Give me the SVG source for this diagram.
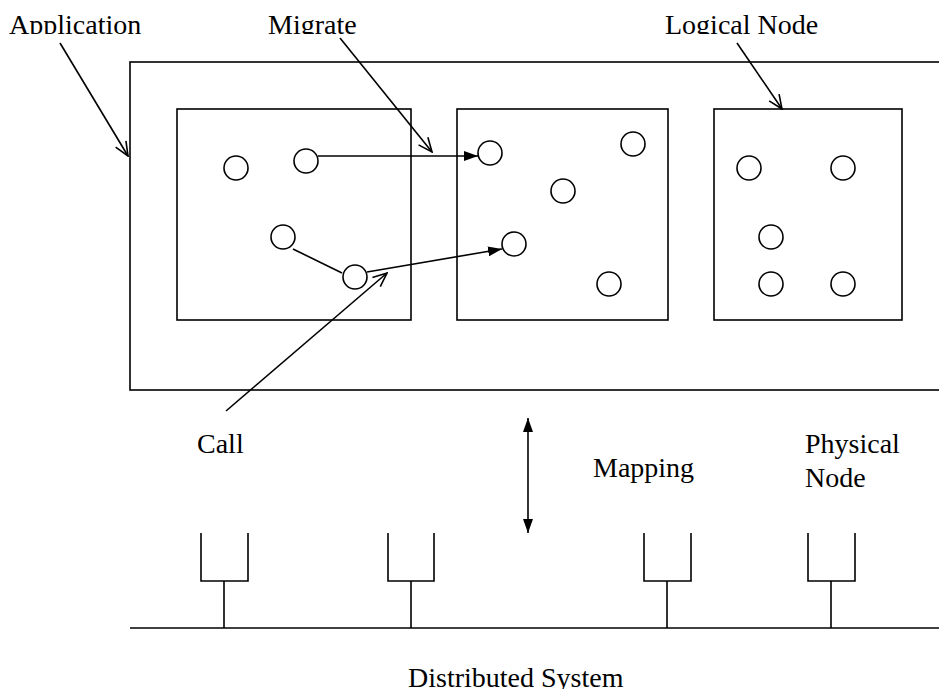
<svg xmlns="http://www.w3.org/2000/svg" width="939" height="689" viewBox="0 0 939 689">
  <style>
    .ln { fill: none; stroke: #000; stroke-width: 1.6; }
    .obj { fill: #fff; stroke: #000; stroke-width: 1.6; }
    .lbl { font-family: "Liberation Serif", "Times New Roman", serif; font-size: 28px; fill: #000; }
  </style>
  <defs>
    <marker id="solid" viewBox="0 0 14 10" refX="14" refY="5" markerWidth="14" markerHeight="10" markerUnits="userSpaceOnUse" orient="auto-start-reverse">
      <path d="M0,0 L14,5 L0,10 z" fill="#000"/>
    </marker>
    <marker id="open" viewBox="0 0 16 14" refX="15" refY="7" markerWidth="16" markerHeight="14" markerUnits="userSpaceOnUse" orient="auto">
      <path d="M1,1 L15,7 L1,13" fill="none" stroke="#000" stroke-width="1.6"/>
    </marker>
    <clipPath id="topClip">
      <rect x="0" y="0" width="939" height="34"/>
    </clipPath>
  </defs>
  <rect width="939" height="689" fill="#fff"/>

  <!-- application frame -->
  <g id="application">
    <rect class="ln" x="130" y="62" width="830" height="328"/>
  </g>

  <!-- logical nodes with their objects -->
  <g id="logical-node-1">
    <rect class="ln" x="177" y="109" width="234" height="211"/>
    <circle class="obj" cx="236" cy="168" r="12"/>
    <circle class="obj" cx="306" cy="161" r="12"/>
    <circle class="obj" cx="283" cy="237" r="12"/>
    <circle class="obj" cx="355" cy="277" r="12"/>
  </g>
  <g id="logical-node-2">
    <rect class="ln" x="457" y="109" width="211" height="211"/>
    <circle class="obj" cx="490" cy="153" r="12"/>
    <circle class="obj" cx="633" cy="144" r="12"/>
    <circle class="obj" cx="563" cy="191" r="12"/>
    <circle class="obj" cx="514" cy="244" r="12"/>
    <circle class="obj" cx="609" cy="284" r="12"/>
  </g>
  <g id="logical-node-3">
    <rect class="ln" x="714" y="109" width="188" height="211"/>
    <circle class="obj" cx="749" cy="168" r="12"/>
    <circle class="obj" cx="843" cy="168" r="12"/>
    <circle class="obj" cx="771" cy="237" r="12"/>
    <circle class="obj" cx="771" cy="284" r="12"/>
    <circle class="obj" cx="843" cy="284" r="12"/>
  </g>

  <!-- physical nodes on the network bus -->
  <g id="physical-node-1">
    <path class="ln" d="M201,533 V581 H248 V533 M224,581 V628"/>
  </g>
  <g id="physical-node-2">
    <path class="ln" d="M388,533 V581 H434 V533 M411,581 V628"/>
  </g>
  <g id="physical-node-3">
    <path class="ln" d="M644,533 V581 H691 V533 M667,581 V628"/>
  </g>
  <g id="physical-node-4">
    <path class="ln" d="M808,533 V581 H855 V533 M831,581 V628"/>
  </g>
  <g id="network">
    <line class="ln" x1="130" y1="628" x2="939" y2="628"/>
  </g>

  <!-- connectors -->
  <g id="connectors">
    <line class="ln" x1="318" y1="156" x2="478" y2="156" marker-end="url(#solid)"/>
    <line class="ln" x1="293" y1="249" x2="342" y2="273"/>
    <line class="ln" x1="367" y1="272" x2="502" y2="249" marker-end="url(#solid)"/>
    <line class="ln" x1="528" y1="418" x2="528" y2="533" marker-start="url(#solid)" marker-end="url(#solid)"/>
    <line class="ln" x1="60" y1="43" x2="128" y2="156" marker-end="url(#open)"/>
    <line class="ln" x1="340" y1="38" x2="432" y2="152" marker-end="url(#open)"/>
    <line class="ln" x1="737" y1="43" x2="782" y2="109" marker-end="url(#open)"/>
    <line class="ln" x1="226" y1="411" x2="387" y2="273" marker-end="url(#open)"/>
  </g>

  <!-- labels -->
  <g id="labels">
    <g clip-path="url(#topClip)">
      <text class="lbl" x="9" y="34">Application</text>
      <text class="lbl" x="268" y="34">Migrate</text>
      <text class="lbl" x="665" y="34">Logical Node</text>
    </g>
    <text class="lbl" x="197" y="453">Call</text>
    <text class="lbl" x="593" y="477">Mapping</text>
    <text class="lbl" x="805" y="453">Physical</text>
    <text class="lbl" x="805" y="487">Node</text>
    <text class="lbl" x="408" y="687">Distributed System</text>
  </g>
</svg>
